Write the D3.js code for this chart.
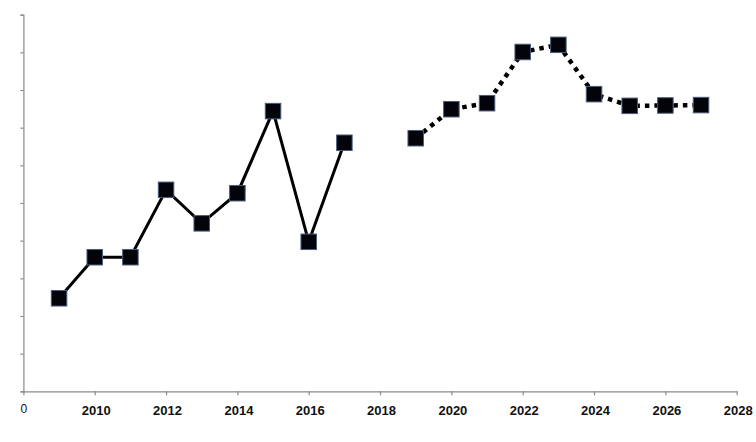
<!DOCTYPE html>
<html>
<head>
<meta charset="utf-8">
<script src="https://cdn.jsdelivr.net/npm/d3@7"></script>
<style>
  html, body { margin: 0; padding: 0; background: #fff; }
  svg { display: block; }
</style>
</head>
<body>
<svg id="chart" width="756" height="442"></svg>
<script>
// Data
const actualYears = [2009, 2010, 2011, 2012, 2013, 2014, 2015, 2016, 2017];
const actualValues = [2.47, 3.56, 3.56, 5.35, 4.46, 5.26, 7.44, 3.97, 6.60];
const forecastYears = [2019, 2020, 2021, 2022, 2023, 2024, 2025, 2026, 2027];
const forecastValues = [6.72, 7.49, 7.65, 9.01, 9.20, 7.89, 7.58, 7.59, 7.60];
const xTickValues = [2008, 2010, 2012, 2014, 2016, 2018, 2020, 2022, 2024, 2026, 2028];
const xTickLabels = ["0", "2010", "2012", "2014", "2016", "2018", "2020", "2022", "2024", "2026", "2028"];
const yTickValues = [0, 1, 2, 3, 4, 5, 6, 7, 8, 9, 10];

const svg = d3.select("#chart");
const x = d3.scaleLinear().domain([2008, 2028]).range([23.4, 736.7]);
const y = d3.scaleLinear().domain([0, 10]).range([391.3, 14.7]);

// Y axis
const yAxis = svg.append("g")
  .attr("transform", `translate(${x(2008)},0)`)
  .call(d3.axisLeft(y).tickValues(yTickValues).tickSize(3).tickFormat(""));
yAxis.select(".domain").attr("stroke", "#8a8a8a").attr("stroke-width", 1.2);
yAxis.selectAll(".tick line").attr("stroke", "#8a8a8a").attr("stroke-width", 1.2);

// X axis
const xAxis = svg.append("g")
  .attr("transform", `translate(0,${y(0)})`)
  .call(d3.axisBottom(x).tickValues(xTickValues).tickSize(4).tickSizeOuter(0)
    .tickFormat((d, i) => xTickLabels[i]));
xAxis.select(".domain").attr("stroke", "#8a8a8a").attr("stroke-width", 1.2);
xAxis.selectAll(".tick line").attr("stroke", "#8a8a8a").attr("stroke-width", 1.2);
xAxis.selectAll(".tick text")
  .attr("y", 0)
  .attr("dy", null)
  .attr("transform", (d, i) => i === 0 ? "translate(0,21.5)" : "translate(1,23.5)")
  .attr("fill", "#111")
  .style("font-family", "Liberation Sans, Arial, sans-serif")
  .style("font-size", (d, i) => i === 0 ? "12px" : "13px")
  .style("font-weight", (d, i) => i === 0 ? "normal" : "bold");

const line = d3.line().x(d => x(d[0])).y(d => y(d[1]));

const actual = actualYears.map((yr, i) => [yr, actualValues[i]]);
const forecast = forecastYears.map((yr, i) => [yr, forecastValues[i]]);

svg.append("path")
  .datum(actual)
  .attr("d", line)
  .attr("fill", "none")
  .attr("stroke", "#000")
  .attr("stroke-width", 3);

svg.append("path")
  .datum(forecast)
  .attr("d", line)
  .attr("fill", "none")
  .attr("stroke", "#000")
  .attr("stroke-width", 4.5)
  .attr("stroke-dasharray", "4.5 5");

const sq = 15.5;
svg.append("g").selectAll("rect")
  .data(actual.concat(forecast))
  .join("rect")
  .attr("x", d => x(d[0]) - sq / 2)
  .attr("y", d => y(d[1]) - sq / 2)
  .attr("width", sq)
  .attr("height", sq)
  .attr("fill", "#03030a")
  .attr("stroke", "#4b5b7c")
  .attr("stroke-width", 1);
</script>
</body>
</html>
